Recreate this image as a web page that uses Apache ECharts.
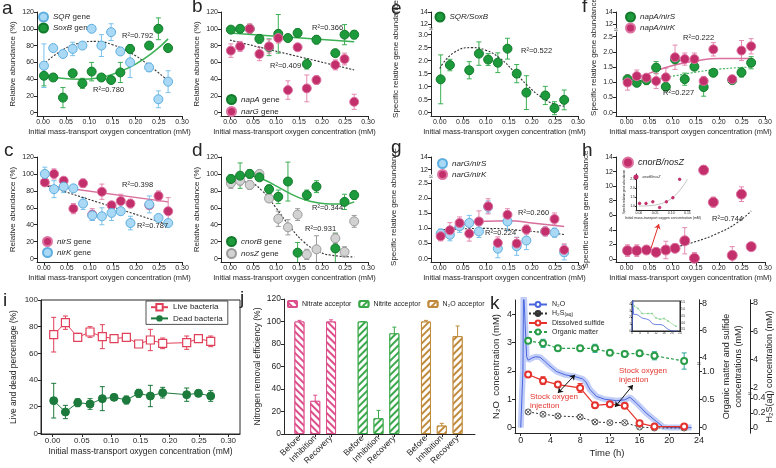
<!DOCTYPE html>
<html>
<head>
<meta charset="utf-8">
<script src="https://cdn.jsdelivr.net/npm/echarts@6/dist/echarts.min.js"></script>
<style>html,body{margin:0;padding:0;background:#fff}#main{width:776px;height:468px}</style>
</head>
<body>
<div id="main"></div>
<script>
// 氧浓度梯度下各功能基因丰度、活死菌比例、脱氮效率与 N2O 时间曲线
const XS = [0.002, 0.022, 0.043, 0.064, 0.085, 0.105, 0.126, 0.147, 0.167, 0.188, 0.229, 0.249, 0.270];
const X_TICKS = [0, 0.05, 0.1, 0.15, 0.2, 0.25, 0.3];
const PCT_TICKS = [0, 20, 40, 60, 80, 100, 120];

// a
const SQR_A = [56, 77, 70, 76, 80, 100, 80, 96, 73, 60, 54, 16, 37];
const SQR_A_ERR = [26, 3, 4, 8, 3, 3, 13, 10, 3, 18, 5, 10, 13];
const SOXB_A = [44, 42, 18, 47, 35, 49, 42, 39, 48, 76, 80, 100, 77];
const SOXB_A_ERR = [12, 4, 12, 3, 6, 11, 3, 4, 12, 5, 2, 13, 4];
const FIT_SQR_A = [[0, 57], [0.04, 74], [0.08, 83], [0.115, 85], [0.15, 81], [0.19, 71], [0.23, 56], [0.27, 38]];
const FIT_SOXB_A = [[0, 45], [0.04, 41], [0.08, 40], [0.12, 41.5], [0.16, 48], [0.2, 58], [0.24, 73], [0.27, 88]];
// b
const NAPA_B = [99, 100, 100, 88, 78, 94, 89, 95, 58, 87, 71, 93, 93];
const NAPA_B_ERR = [3, 3, 3, 5, 10, 23, 3, 5, 6, 5, 3, 12, 5];
const NARG_B = [74, 79, 100, 70, 79, 89, 27, 78, 29, 39, 57, 64, 13];
const NARG_B_ERR = [8, 6, 6, 8, 8, 6, 11, 2, 16, 5, 6, 7, 9];
const FIT_NAPA_B = [[0, 95], [0.27, 84.5]];
const FIT_NARG_B = [[0, 86.5], [0.27, 51]];
// c
const NIRS_C = [90, 100, 92, 59, 89, 52, 79, 63, 68, 65, 63, 74, 56];
const NIRS_C_ERR = [4, 6, 4, 6, 5, 7, 9, 4, 8, 5, 4, 6, 16];
const NIRK_C = [100, 82, 85, 83, 65, 51, 50, 54, 56, 42, 64, 48, 42];
const NIRK_C_ERR = [8, 10, 7, 4, 7, 6, 10, 9, 3, 8, 10, 4, 4];
const FIT_NIRS_C = [[0, 87], [0.27, 67]];
const FIT_NIRK_C = [[0, 87], [0.27, 40]];
// d
const CNORB_D = [94, 98, 100, 96, 82, 73, 91, 7, 75, 85, 12, 67, 75];
const CNORB_D_ERR = [5, 15, 5, 3, 5, 8, 23, 12, 6, 7, 18, 9, 5];
const NOSZ_D = [89, 92, 87, 100, 71, 47, 37, 52, 5, 11, 24, 8, 44];
const NOSZ_D_ERR = [6, 5, 5, 3, 4, 9, 9, 7, 6, 16, 6, 6, 7];
const FIT_CNORB_D = [[0, 97], [0.04, 98], [0.07, 94], [0.1, 86], [0.13, 77], [0.16, 70], [0.19, 66], [0.22, 64.5], [0.25, 64.5], [0.27, 67]];
const FIT_NOSZ_D = [[0, 92], [0.04, 90], [0.07, 80], [0.1, 60], [0.13, 38], [0.16, 20], [0.19, 9], [0.22, 4], [0.27, 2]];
// e
const RATIO_E = [1.28, 1.83, null, 1.63, 2.27, 2.04, 1.92, 2.46, 1.5, 0.77, 0.66, 0.17, 0.49];
const RATIO_E_ERR = [0.94, 0.22, null, 0.33, 0.45, 0.23, 0.38, 0.4, 0.35, 0.65, 0.35, 0.25, 0.38];
const FIT_E = [[0, 1.7], [0.03, 2.3], [0.07, 2.5], [0.1, 2.4], [0.13, 2.1], [0.16, 1.6], [0.19, 1.05], [0.22, 0.6], [0.25, 0.32], [0.27, 0.25]];
// f
const NAPA_NIRS_F = [1.10, 0.98, 1.07, 1.48, 0.85, 1.75, 1.1, 1.51, 0.84, 1.31, 1.07, 1.32, 1.64];
const NAPA_NIRS_F_ERR = [0.1, 0.08, 0.15, 0.2, 0.1, 0.1, 0.2, 0.1, 0.3, 0.1, 0.1, 0.15, 0.2];
const NAPA_NIRK_F = [0.99, 1.2, 1.15, 1.04, 1.16, 1.82, 1.76, 1.76, 1.04, 2.08, 1.1, 2.04, 2.18];
const NAPA_NIRK_F_ERR = [0.25, 0.2, 0.12, 0.25, 0.3, 0.4, 0.2, 0.2, 0.15, 0.22, 0.1, 0.33, 0.25];
const FIT_NIRK_F = [[0, 1.02], [0.05, 1.3], [0.1, 1.55], [0.15, 1.7], [0.2, 1.78], [0.27, 1.78]];
const FIT_NIRS_F = [[0, 1.0], [0.05, 1.08], [0.1, 1.2], [0.15, 1.33], [0.2, 1.43], [0.27, 1.5]];
// g
const NARG_NIRS_G = [0.83, 0.79, 1.07, 1.18, 0.9, 1.71, 0.33, 1.23, 0.41, 0.6, 0.9, 0.86, 0.21];
const NARG_NIRS_G_ERR = [0.15, 0.2, 0.2, 0.25, 0.2, 0.2, 0.3, 0.3, 0.3, 0.3, 0.12, 0.15, 0.25];
const NARG_NIRK_G = [0.74, 0.94, 1.18, 0.83, 1.23, 1.73, 0.52, 1.45, 0.5, 0.96, 0.9, 1.31, 0.29];
const NARG_NIRK_G_ERR = [0.15, 0.25, 0.2, 0.25, 0.35, 0.25, 0.2, 0.2, 0.2, 0.15, 0.15, 0.2, 0.2];
const FIT_NIRK_G = [[0, 0.82], [0.05, 1.12], [0.1, 1.24], [0.15, 1.25], [0.2, 1.18], [0.27, 1.06]];
const FIT_NIRS_G = [[0, 0.95], [0.1, 1.0], [0.2, 0.9], [0.27, 0.8]];
// h
const RATIO_H = [1.15, 1.15, 1.24, 0.92, 1.24, 1.47, 2.5, 0.1, 12.2, 7.8, 0.5, 8.9, 1.7];
const RATIO_H_ERR = [0.8, 0.8, 0.2, 0.5, 1.2, 0.6, 1.8, 0.8, 0.6, 0.7, 1.2, 1.0, 0.5];
const FIT_H = [[0, 1.1], [0.05, 1.2], [0.1, 1.6], [0.15, 2.4], [0.2, 3.6], [0.24, 5.0], [0.27, 6.6]];
const FIT_H_INSET = [[0, 1.0], [0.03, 1.02], [0.06, 1.1], [0.09, 1.3], [0.12, 1.75], [0.15, 2.5]];
// i
const LIVE_I = [74, 83, 72, 76, 72.5, 71, 72, 67, 70, 67.5, 68, 71, 69];
const LIVE_I_ERR = [13, 5, 3, 4, 9, 1.5, 2, 2, 8, 4, 5, 2.5, 4];
const DEAD_I = [24.5, 16, 23, 22, 26, 27, 25, 30, 28, 30.5, 29, 30, 28];
const DEAD_I_ERR = [13, 5, 3, 4, 9, 1.5, 3, 3, 8, 4, 5, 2.5, 4];
// j
const J_LABELS = ['Before', 'Inhibition', 'Recovery'];
const J_POS = [0, 1, 2, 4, 5, 6, 8, 9, 10];
const NITRATE_J = [100, 29.5, 100];
const NITRATE_J_ERR = [1, 5, 1.5];
const NITRITE_J = [100, 14, 89.5];
const NITRITE_J_ERR = [0, 7, 5.5];
const N2O_J = [100, 7.5, 87];
const N2O_J_ERR = [1, 2, 9];
// k
const K_T = [1, 3, 5, 8, 10, 12, 14, 16, 18, 22];
const SULFIDE_K = [0.95, 0.84, 0.77, 0.71, 0.40, 0.42, 0.39, 0.08, 0.02, 0.02];
const SULFIDE_K_ERR = [0.03, 0.07, 0.04, 0.08, 0.03, 0.02, 0.04, 0.03, 0.01, 0.01];
const H2S_K = [0.214, 0.183, 0.16, 0.147, 0.08, 0.071, 0.071, 0.013, 0, 0];
const ORGANIC_K = [5.24, 5.05, 4.68, 4.68, 4.68, 4.36, 4.26, 4.31, 4.13, 3.74];
const ORGANIC_K_ERR = [0.1, 0.3, 0.1, 0.1, 0.3, 0.1, 0.1, 0.1, 0.3, 0.6];
const N2O_T = [0, 0.2, 0.3, 0.38, 0.48, 0.6, 0.8, 1.0, 1.5, 2.0, 2.6, 3.2, 3.8, 4.8, 6.0, 7.3, 8.3, 8.8, 9.3, 10.2, 11.3, 12.9, 14.0, 14.7, 15.6, 16.9, 18.3, 19.2, 20.0, 23.0];
const N2O_C = [0, 0, 2.0, 5.0, 5.0, 3.6, 2.5, 2.38, 2.45, 2.5, 2.48, 2.35, 2.2, 1.98, 1.86, 1.8, 1.72, 1.6, 1.35, 1.1, 1.0, 0.95, 0.98, 1.07, 0.86, 0.51, 0.21, 0.02, 0, 0];

const FONT = 'Liberation Sans';
const INK = '#262626';
const GREEN = '#1d9a3b', GREEN_EDGE = '#137a2c', GREEN_LINE = '#3cb055';
const BLUE = '#a9d9f5', BLUE_EDGE = '#5faee0', BLUE_ERR = '#79c1ec';
const PINK = '#c22f6b', PINK_EDGE = '#dd73a2', PINK_ERR = '#e489b0', PINK_LINE = '#d86f9d';
const GREY = '#d2d2d2', GREY_EDGE = '#9b9b9b';
const DASH = '#333333';

const LEG = {
    aSQR: '{i|SQR} gene', aSOXB: '{i|SoxB} gene', bNAPA: '{i|napA} gene', bNARG: '{i|narG} gene',
    cNIRS: '{i|nirS} gene', cNIRK: '{i|nirK} gene', dCNORB: '{i|cnorB} gene', dNOSZ: '{i|nosZ} gene',
    eR: '{i|SQR/SoxB}', fS: '{i|napA/nirS}', fK: '{i|napA/nirK}', gS: '{i|narG/nirS}', gK: '{i|narG/nirK}',
    hR: '{i|cnorB/nosZ}', hIn: '{i|cnorB/nosZ}', iLive: 'Live bacteria', iDead: 'Dead bacteria',
    jNa: 'Nitrate acceptor', jNi: 'Nitrite acceptor', jN2: 'N₂O acceptor',
    kN2O: 'N₂O', kH2S: 'H₂S{s|(aq)}', kSulf: 'Dissolved sulfide', kOrg: 'Organic matter'
};

const f0 = v => String(v);
const f1 = v => Number(v).toFixed(1);
const f2 = v => Number(v).toFixed(2);
const fz = v => (Number(v) === 0 ? '0' : Number(v).toFixed(1));

function zip(xs, ys) {
    return xs.map((x, k) => (ys[k] == null ? null : [x, ys[k]])).filter(Boolean);
}

function errItem(color, cap) {
    return function (params, api) {
        const x = api.value(0);
        const a = api.coord([x, api.value(1)]);
        const b = api.coord([x, api.value(2)]);
        const c = cap || 2.5;
        const st = { stroke: color, lineWidth: 1 };
        return {
            type: 'group', children: [
                { type: 'line', shape: { x1: a[0], y1: a[1], x2: b[0], y2: b[1] }, style: st },
                { type: 'line', shape: { x1: a[0] - c, y1: a[1], x2: a[0] + c, y2: a[1] }, style: st },
                { type: 'line', shape: { x1: b[0] - c, y1: b[1], x2: b[0] + c, y2: b[1] }, style: st }
            ]
        };
    };
}

function errs(g, ys, es, color, yi, xs, cap) {
    xs = xs || XS;
    return {
        type: 'custom', xAxisIndex: g, yAxisIndex: yi == null ? g : yi, z: 2, silent: true, clip: true,
        encode: { x: 0, y: [1, 2] },
        data: xs.map((x, k) => (ys[k] == null ? null : [x, ys[k] - es[k], ys[k] + es[k]])).filter(Boolean),
        renderItem: errItem(color, cap)
    };
}

function dots(name, g, ys, fill, edge, size) {
    return {
        name, type: 'scatter', xAxisIndex: g, yAxisIndex: g, symbolSize: size || 9, z: 4,
        itemStyle: { color: fill, borderColor: edge, borderWidth: 1, opacity: 1 },
        data: zip(XS, ys)
    };
}

function fit(g, pts, color, dashed) {
    return {
        type: 'line', xAxisIndex: g, yAxisIndex: g, data: pts, smooth: 0.5, symbol: 'none', silent: true, z: 3,
        lineStyle: { color, width: dashed ? 1.1 : 1.5, type: dashed ? [2, 1.6] : 'solid' }
    };
}

function axis(g, min, max, ticks, fmt, o) {
    o = o || {};
    const a = {
        type: 'value', gridIndex: g, min, max, nameLocation: 'middle',
        name: o.name || ' ', nameGap: o.nameGap || 10,
        nameTextStyle: { fontSize: o.nfs || 7.5, color: INK, fontFamily: FONT, lineHeight: (o.nfs || 7.5) * 1.3, padding: o.npad || 0 },
        axisLine: { show: true, onZero: false, lineStyle: { color: INK, width: 1 } },
        axisTick: { show: true, length: o.tl || 3, customValues: ticks, lineStyle: { color: INK, width: 1 } },
        axisLabel: { show: true, customValues: ticks, formatter: fmt, fontSize: o.fs || 7, color: INK, margin: o.margin || 3, fontFamily: FONT, rotate: o.rotate || 0 },
        splitLine: { show: false }
    };
    ['position', 'offset'].forEach(k => { if (k in o) a[k] = o[k]; });
    return a;
}

function hidden(g, min, max) {
    return { type: 'value', gridIndex: g, min, max, show: false };
}

function lg(left, top, names, gap, fs, extra) {
    fs = fs || 8;
    return Object.assign({
        left, top, orient: 'vertical', itemGap: gap, itemWidth: 9, itemHeight: 9, padding: 0,
        selectedMode: false, data: names, formatter: n => LEG[n],
        textStyle: {
            fontSize: fs, color: INK, fontFamily: FONT,
            rich: { i: { fontStyle: 'italic', fontSize: fs, fontFamily: FONT, color: INK }, s: { fontSize: fs * 0.7, fontFamily: FONT, color: INK, padding: [3, 0, 0, 0] } }
        }
    }, extra || {});
}

function txt(x, y, text, fs, o) {
    o = o || {};
    return {
        type: 'text', x, y, silent: true, z: 50,
        style: {
            text, fontSize: fs, fontFamily: FONT, fill: o.color || INK, align: o.align || 'left',
            verticalAlign: o.va || 'middle', lineHeight: o.lh || fs * 1.1
        }
    };
}

function hatch(color, rot) {
    return { symbol: 'rect', symbolSize: 1, color, backgroundColor: '#ffffff', dashArrayX: [1, 0], dashArrayY: [1.3, 2.2], rotation: rot };
}

function jBar(name, off, vals, color, rot) {
    return {
        name, type: 'bar', xAxisIndex: 13, yAxisIndex: 13, barWidth: 10, barGap: '-100%', z: 2,
        itemStyle: { color: '#ffffff', borderColor: color, borderWidth: 1, decal: hatch(color, rot) },
        data: vals.map((v, k) => [J_POS[off + k], v])
    };
}

const XNAME = 'Initial mass-transport oxygen concentration (mM)';
const SRGA = 'Specific relative gene abundance';
const SYM_XC = 'path://M10,1A9,9,0,1,1,9.99,1Z M3.6,3.6L16.4,16.4 M16.4,3.6L3.6,16.4';
const N2O_PTS = zip(N2O_T, N2O_C);
const BLUE_K = '#4a66de';
const LOW_TICKS = [0, 0.5, 1, 1.5, 2, 2.5];

const G = [
    [37, 12, 145, 104], [221, 12, 147, 104], [37, 157, 145, 105], [221, 157, 147, 105],
    [431, 12, 147, 16], [431, 31, 147, 85], [616, 12, 149, 16], [616, 32, 149, 84],
    [431, 157, 147, 17], [431, 180, 147, 82], [616, 157, 149, 105], [636, 174, 54, 36],
    [41, 300, 199, 134], [284, 299, 191, 135], [515, 300, 184, 133], [632, 301, 48, 30]
];

const chart = echarts.init(document.getElementById('main'));
chart.setOption({
    animation: false,
    backgroundColor: '#ffffff',
    textStyle: { fontFamily: FONT },
    grid: G.map(([l, t, w, h], i) => ({
        left: l, top: t, width: w, height: h, outerBoundsMode: 'none', containLabel: false,
        show: i === 12 || i === 15, borderColor: INK, borderWidth: 1, backgroundColor: 'transparent'
    })),
    xAxis: [
        axis(0, -0.013, 0.3, X_TICKS, f2, { name: XNAME }),
        axis(1, -0.0195, 0.3, X_TICKS, f2, { name: XNAME }),
        axis(2, -0.015, 0.3, X_TICKS, f2, { name: XNAME }),
        axis(3, -0.0195, 0.3, X_TICKS, f2, { name: XNAME }),
        hidden(4, -0.019, 0.3),
        axis(5, -0.019, 0.3, X_TICKS, f2, { name: XNAME }),
        hidden(6, -0.023, 0.3),
        axis(7, -0.023, 0.3, X_TICKS, f2, { name: XNAME }),
        hidden(8, -0.019, 0.3),
        axis(9, -0.019, 0.3, X_TICKS, f2, { name: XNAME }),
        axis(10, -0.023, 0.3, X_TICKS, f2, { name: XNAME }),
        axis(11, -0.009, 0.158, [0, 0.05, 0.1, 0.15], f2, { name: XNAME, nameGap: 4, fs: 3.5, nfs: 3.5, tl: 1, margin: 1 }),
        axis(12, -0.0197, 0.32, X_TICKS, f2, { name: XNAME, nameGap: 11, fs: 8, nfs: 8.5 }),
        axis(13, -0.975, 11.1, J_POS, v => J_LABELS[J_POS.indexOf(Math.round(v)) % 3], { fs: 8.5, rotate: 45 }),
        axis(14, -0.77, 24, [0, 4, 8, 12, 16, 20, 24], f0, { name: 'Time (h)', nameGap: 14, fs: 9, nfs: 9.5 }),
        axis(15, 0, 24, [0, 4, 8, 12, 16, 20, 24], f0, { fs: 3, tl: 1, margin: 1 })
    ],
    yAxis: [
        axis(0, -3.9, 120, PCT_TICKS, f0, { name: 'Relative abundance (%)', nameGap: 19, nfs: 8 }),
        axis(1, -3.9, 120, PCT_TICKS, f0, { name: 'Relative abundance (%)', nameGap: 17, nfs: 8 }),
        axis(2, -4, 120, PCT_TICKS, f0, { name: 'Relative abundance (%)', nameGap: 19, nfs: 8 }),
        axis(3, -4, 120, PCT_TICKS, f0, { name: 'Relative abundance (%)', nameGap: 17, nfs: 8 }),
        axis(4, 11.33, 14, [12, 14], f0),
        axis(5, -0.13, 3.14, [0, 0.5, 1, 1.5, 2, 2.5, 3], f1, { name: SRGA, nameGap: 30, nfs: 8, npad: [0, 0, 0, 29] }),
        axis(6, 11.33, 14, [12, 14], f0),
        axis(7, -0.11, 2.65, LOW_TICKS, f1, { name: SRGA, nameGap: 17, nfs: 8, npad: [0, 0, 0, 34] }),
        axis(8, 11.3, 14, [12, 14], f0),
        axis(9, -0.11, 2.6, LOW_TICKS, f1, { name: SRGA, nameGap: 32, nfs: 8, npad: [0, 0, 0, 28] }),
        axis(10, -0.41, 14, [0, 2, 4, 6, 8, 10, 12, 14], f0, { name: SRGA, nameGap: 25, nfs: 8 }),
        axis(11, 0.78, 2.8, [1, 1.5, 2, 2.5], f1, { fs: 3.5, tl: 1, margin: 1, name: SRGA, nfs: 3, nameGap: 8 }),
        axis(12, -0.5, 100, [0, 20, 40, 60, 80, 100], f0, { name: 'Live and dead percentage (%)', nameGap: 22, fs: 8, nfs: 8.5 }),
        axis(13, 0, 120, PCT_TICKS, f0, { name: 'Nitrogen removal efficiency (%)', nameGap: 21, fs: 8.5, nfs: 8.5 }),
        axis(14, -0.19, 4.5, [0, 1, 2, 3, 4], f0, { name: 'N₂O  concentration (mM)', nameGap: 12, fs: 9, nfs: 9.5 }),
        axis(15, 0, 4.5, [0, 1, 2, 3, 4], f0, { fs: 3, tl: 1, margin: 1 }),
        axis(14, -0.095, 2.28, [0, 0.5, 1], fz, { position: 'right', fs: 9 }),
        axis(14, -1.59, 8.26, [4, 6, 8], f0, { position: 'right', fs: 9, name: 'Organic matter and sulfide\nconcentrations (mM)', nfs: 9, nameGap: 22 }),
        axis(14, -0.067, 1.707, [0, 0.2, 0.4], fz, { position: 'right', offset: 51, fs: 9 }),
        axis(14, -1.17, 8.2, [2, 4, 6, 8], f0, { position: 'right', offset: 51, fs: 9, name: 'H₂S(aq) concentration (mM)', nfs: 9, nameGap: 14 }),
        axis(15, 3.4, 5.6, [3.5, 4, 4.5, 5, 5.5], f1, { position: 'right', fs: 3, tl: 1, margin: 1 })
    ],
    legend: [
        lg(38, 11.5, ['aSQR', 'aSOXB'], 0),
        lg(226, 94, ['bNAPA', 'bNARG'], 1),
        lg(42, 236, ['cNIRS', 'cNIRK'], 0),
        lg(226, 236, ['dCNORB', 'dNOSZ'], 1),
        lg(434.5, 11.5, ['eR'], 0),
        lg(625, 11.5, ['fS', 'fK'], 0),
        lg(437, 158, ['gS', 'gK'], 0),
        lg(622, 156.5, ['hR'], 0, 9, { itemWidth: 10, itemHeight: 10 }),
        lg(633.5, 174.5, ['hIn'], 0, 3.5, { itemWidth: 3, itemHeight: 3 }),
        lg(146, 301, ['iLive', 'iDead'], 3, 8, { itemWidth: 17, itemHeight: 8, padding: [2, 5, 2, 4], borderColor: INK, borderWidth: 0.8 }),
        lg(287, 300, ['jNa', 'jNi', 'jN2'], 7, 7, { orient: 'horizontal', itemWidth: 9, itemHeight: 6 }),
        lg(528, 301, ['kN2O', 'kH2S', 'kSulf', 'kOrg'], 2, 7, { itemWidth: 18, itemHeight: 6 })
    ],
    series: [
        // a
        errs(0, SQR_A, SQR_A_ERR, BLUE_ERR), errs(0, SOXB_A, SOXB_A_ERR, GREEN_LINE),
        fit(0, FIT_SQR_A, DASH, true), fit(0, FIT_SOXB_A, GREEN_LINE, false),
        dots('aSQR', 0, SQR_A, BLUE, BLUE_EDGE), dots('aSOXB', 0, SOXB_A, GREEN, GREEN_EDGE),
        // b
        errs(1, NAPA_B, NAPA_B_ERR, GREEN_LINE), errs(1, NARG_B, NARG_B_ERR, PINK_ERR),
        fit(1, FIT_NAPA_B, GREEN_LINE, false), fit(1, FIT_NARG_B, DASH, true),
        dots('bNAPA', 1, NAPA_B, GREEN, GREEN_EDGE), dots('bNARG', 1, NARG_B, PINK, PINK_EDGE),
        // c
        errs(2, NIRS_C, NIRS_C_ERR, PINK_ERR), errs(2, NIRK_C, NIRK_C_ERR, BLUE_ERR),
        fit(2, FIT_NIRS_C, PINK_LINE, false), fit(2, FIT_NIRK_C, DASH, true),
        dots('cNIRS', 2, NIRS_C, PINK, PINK_EDGE), dots('cNIRK', 2, NIRK_C, BLUE, BLUE_EDGE),
        // d
        errs(3, CNORB_D, CNORB_D_ERR, GREEN_LINE), errs(3, NOSZ_D, NOSZ_D_ERR, GREY_EDGE),
        fit(3, FIT_CNORB_D, GREEN_LINE, false), fit(3, FIT_NOSZ_D, DASH, true),
        dots('dNOSZ', 3, NOSZ_D, GREY, GREY_EDGE), dots('dCNORB', 3, CNORB_D, GREEN, GREEN_EDGE),
        // e
        errs(5, RATIO_E, RATIO_E_ERR, GREEN_LINE), fit(5, FIT_E, DASH, true),
        dots('eR', 5, RATIO_E, GREEN, GREEN_EDGE),
        // f
        errs(7, NAPA_NIRS_F, NAPA_NIRS_F_ERR, GREEN_LINE), errs(7, NAPA_NIRK_F, NAPA_NIRK_F_ERR, PINK_ERR),
        fit(7, FIT_NIRK_F, PINK_LINE, false), fit(7, FIT_NIRS_F, GREEN_LINE, true),
        dots('fS', 7, NAPA_NIRS_F, GREEN, GREEN_EDGE), dots('fK', 7, NAPA_NIRK_F, PINK, PINK_EDGE),
        // g
        errs(9, NARG_NIRS_G, NARG_NIRS_G_ERR, BLUE_ERR), errs(9, NARG_NIRK_G, NARG_NIRK_G_ERR, PINK_ERR),
        fit(9, FIT_NIRK_G, PINK_LINE, false), fit(9, FIT_NIRS_G, DASH, true),
        dots('gS', 9, NARG_NIRS_G, BLUE, BLUE_EDGE), dots('gK', 9, NARG_NIRK_G, PINK, PINK_EDGE),
        // h
        errs(10, RATIO_H, RATIO_H_ERR, PINK_ERR), fit(10, FIT_H, DASH, true),
        Object.assign(dots('hR', 10, RATIO_H, PINK, PINK_EDGE, 10), {
            markLine: {
                silent: true, symbol: ['none', 'arrow'], symbolSize: 5, label: { show: false },
                lineStyle: { color: '#e0302a', width: 1, type: 'solid' },
                data: [[{ coord: [0.053, 1.5] }, { coord: [0.07, 4.8] }]]
            }
        }),
        Object.assign(fit(11, FIT_H_INSET, '#9a9a9a', false), { lineStyle: { color: '#9a9a9a', width: 0.6 } }),
        Object.assign(dots('hIn', 11, RATIO_H.slice(0, 7), PINK, PINK, 2.5), { data: zip(XS.slice(0, 7), RATIO_H.slice(0, 7)) }),
        // i
        errs(12, LIVE_I, LIVE_I_ERR, '#e0405a'), errs(12, DEAD_I, DEAD_I_ERR, '#1c7a3c'),
        {
            name: 'iLive', type: 'line', xAxisIndex: 12, yAxisIndex: 12, data: zip(XS, LIVE_I), z: 4,
            symbol: 'rect', symbolSize: 8, lineStyle: { color: '#e0405a', width: 1 },
            itemStyle: { color: '#ffffff', borderColor: '#e0405a', borderWidth: 1.2 }
        },
        {
            name: 'iDead', type: 'line', xAxisIndex: 12, yAxisIndex: 12, data: zip(XS, DEAD_I), z: 4,
            symbol: 'circle', symbolSize: 8, lineStyle: { color: '#1c7a3c', width: 1 },
            itemStyle: { color: '#1c7a3c', borderColor: '#1c7a3c' }
        },
        // j
        jBar('jNa', 0, NITRATE_J, '#dd4f8c', Math.PI / 4),
        jBar('jNi', 3, NITRITE_J, '#3aa84a', -Math.PI / 4),
        jBar('jN2', 6, N2O_J, '#c08a3c', -Math.PI / 4),
        errs(13, NITRATE_J, NITRATE_J_ERR, '#dd4f8c', 13, J_POS.slice(0, 3), 2),
        errs(13, NITRITE_J, NITRITE_J_ERR, '#3aa84a', 13, J_POS.slice(3, 6), 2),
        errs(13, N2O_J, N2O_J_ERR, '#c08a3c', 13, J_POS.slice(6, 9), 2),
        // k
        {
            type: 'line', xAxisIndex: 14, yAxisIndex: 14, data: N2O_PTS, symbol: 'none', silent: true, z: 2,
            lineStyle: { color: 'rgba(95,125,235,0.38)', width: 6 }
        },
        {
            type: 'line', xAxisIndex: 14, yAxisIndex: 14, data: N2O_PTS, symbol: 'none', silent: true, z: 3,
            lineStyle: { color: BLUE_K, width: 1 },
            markLine: {
                silent: true, symbol: ['arrow', 'arrow'], symbolSize: 5, label: { show: false },
                lineStyle: { color: '#111111', width: 1, type: 'solid' },
                data: [[{ coord: [5.0, 1.22] }, { coord: [7.3, 1.86] }], [{ coord: [12.7, 0.73] }, { coord: [15.1, 1.5] }]]
            }
        },
        {
            name: 'kN2O', type: 'line', xAxisIndex: 14, yAxisIndex: 14, data: [], symbol: 'emptyCircle', symbolSize: 6,
            lineStyle: { color: BLUE_K, width: 1.2 }, itemStyle: { color: BLUE_K }
        },
        {
            name: 'kH2S', type: 'line', xAxisIndex: 14, yAxisIndex: 18, data: zip(K_T, H2S_K), z: 4,
            symbol: SYM_XC, symbolSize: 6, lineStyle: { color: '#333333', width: 1, type: [2, 2] },
            itemStyle: { color: '#ffffff', borderColor: '#333333', borderWidth: 0.8 }
        },
        errs(14, SULFIDE_K, SULFIDE_K_ERR, '#e5322d', 16, K_T),
        {
            name: 'kSulf', type: 'line', xAxisIndex: 14, yAxisIndex: 16, data: zip(K_T, SULFIDE_K), z: 4,
            symbol: 'emptyCircle', symbolSize: 6, lineStyle: { color: '#e5322d', width: 1.2 },
            itemStyle: { color: '#e5322d', borderWidth: 1.2 }
        },
        errs(14, ORGANIC_K, ORGANIC_K_ERR, '#2aa79b', 17, K_T),
        {
            name: 'kOrg', type: 'line', xAxisIndex: 14, yAxisIndex: 17, data: zip(K_T, ORGANIC_K), z: 4,
            symbol: 'emptyCircle', symbolSize: 6, lineStyle: { color: '#2a9d4a', width: 1.2, type: [3, 2] },
            itemStyle: { color: '#2a9d4a', borderWidth: 1.2 }
        },
        {
            type: 'line', xAxisIndex: 15, yAxisIndex: 15, data: N2O_PTS, symbol: 'none', silent: true,
            lineStyle: { color: BLUE_K, width: 0.8 }
        },
        {
            type: 'line', xAxisIndex: 15, yAxisIndex: 20, data: zip(K_T, ORGANIC_K), symbol: 'rect', symbolSize: 1.5, silent: true,
            lineStyle: { color: '#7fcf8a', width: 0.6 }, itemStyle: { color: '#7fcf8a' }
        }
    ],
    graphic: [
        txt(2, 19, 'a', 19, { va: 'bottom' }), txt(192, 17.5, 'b', 19, { va: 'bottom' }),
        txt(4, 161, 'c', 19, { va: 'bottom' }), txt(192, 161, 'd', 19, { va: 'bottom' }),
        txt(391, 19, 'e', 19, { va: 'bottom' }), txt(582, 17.5, 'f', 19, { va: 'bottom' }),
        txt(391, 158, 'g', 19, { va: 'bottom' }), txt(582, 161, 'h', 19, { va: 'bottom' }),
        txt(3, 311, 'i', 19, { va: 'bottom' }), txt(240, 309, 'j', 19, { va: 'bottom' }),
        txt(490, 314, 'k', 19, { va: 'bottom' }),
        txt(122, 35.5, 'R²=0.792', 7.5), txt(93, 89.5, 'R²=0.780', 7.5),
        txt(312, 28, 'R²=0.366', 7.5), txt(270, 66, 'R²=0.409', 7.5),
        txt(122, 185, 'R²=0.398', 7.5), txt(137, 226, 'R²=0.787', 7.5),
        txt(312, 207.5, 'R²=0.344', 7.5), txt(305, 229, 'R²=0.931', 7.5),
        txt(521, 51, 'R²=0.522', 7.5),
        txt(683, 37.5, 'R²=0.222', 7.5), txt(663, 93, 'R²=0.227', 7.5),
        txt(518, 212.5, 'R²=0.260', 7.5), txt(485, 232.5, 'R²=0.224', 7.5),
        txt(712, 219, 'R²=0.744', 7.5),
        txt(431, 29.5, '≈', 7, { align: 'center' }),
        txt(616, 30, '≈', 7, { align: 'center' }),
        txt(431, 177, '≈', 7, { align: 'center' }),
        txt(699, 364, '≈', 7, { align: 'center' }),
        txt(750, 394, '≈', 7, { align: 'center' }),
        txt(530, 393, 'Stock oxygen\ninjection', 8, { color: '#e3362f', va: 'top', lh: 8.5 }),
        txt(619, 367, 'Stock oxygen\ninjection', 8, { color: '#e3362f', va: 'top', lh: 8.5 })
    ]
});
</script>
</body>
</html>
